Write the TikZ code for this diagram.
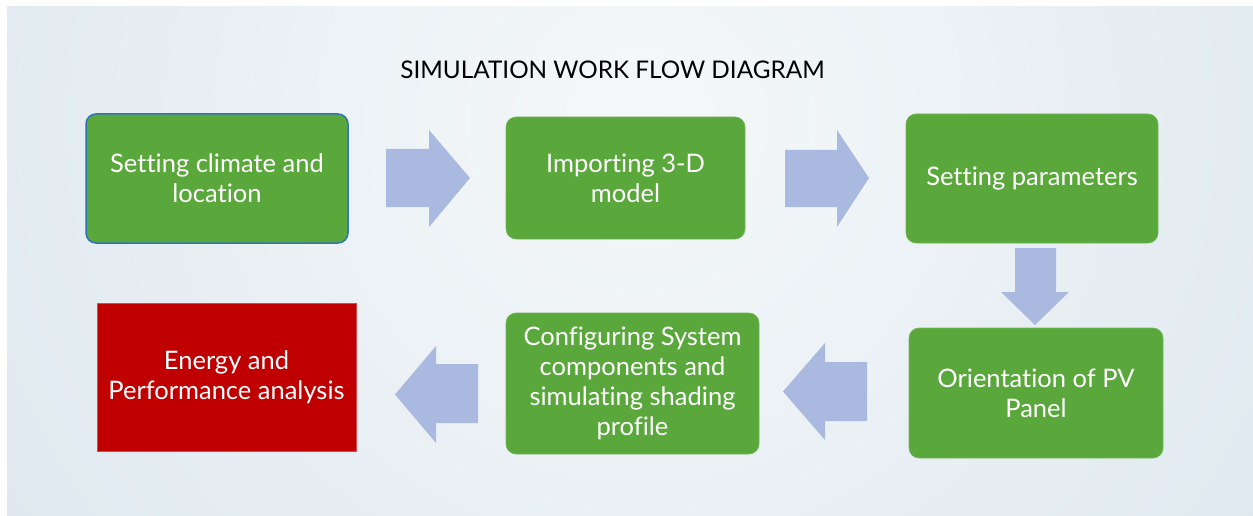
\documentclass[tikz,border=0pt]{standalone}
\usepackage{fontspec}
\setmainfont{Lato}[Ligatures=NoCommon]
\usetikzlibrary{shadings}
\definecolor{boxgreen}{HTML}{5AA83C}
\definecolor{boxred}{HTML}{C00000}
\definecolor{arrowblue}{HTML}{A9B9DF}
\definecolor{edgeblue}{HTML}{2E75B6}
\definecolor{bginner}{HTML}{F5F8FA}
\definecolor{bgouter}{HTML}{CFDEE7}
\tikzset{
  stepbox/.style={rectangle, rounded corners=10pt, fill=boxgreen, draw=boxgreen!85!white, line width=0.6pt,
    text=white, align=center, font=\fontsize{25.5}{30}\selectfont, inner sep=0pt},
  endbox/.style={rectangle, fill=boxred, draw=boxred!70!white, line width=0.6pt,
    text=white, align=center, font=\fontsize{25.5}{30}\selectfont, inner sep=0pt},
  blockarrow/.style={fill=arrowblue, draw=none},
}
\begin{document}
\begin{tikzpicture}[x=1pt,y=-1pt]
\useasboundingbox (0,0) rectangle (1253,516);
\fill[white] (0,0) rectangle (1253,516);
\begin{scope}
\clip (7,7) rectangle (1253,516);
\shade[inner color=bginner, outer color=bgouter] (640,120) circle (1300);
\end{scope}
% title
\node (title) at (612.5,70) {\fontsize{24.3}{28}\selectfont SIMULATION WORK FLOW DIAGRAM};
% boxes
\node[stepbox, draw=edgeblue, line width=1.5pt, minimum width=262pt, minimum height=129pt] (b1) at (217,178.5) {Setting climate and\\location};
\node[stepbox, minimum width=239pt, minimum height=122pt] (b2) at (625.5,178) {Importing 3-D\\model};
\node[stepbox, minimum width=252pt, minimum height=129pt] (b3) at (1032,178.5) {Setting parameters};
\node[stepbox, minimum width=254pt, minimum height=130pt] (b4) at (1036,393) {Orientation of PV\\Panel};
\node[stepbox, minimum width=253pt, minimum height=141pt] (b5) at (632.5,383.5) {Configuring System\\components and\\simulating shading\\profile};
\node[endbox, minimum width=259pt, minimum height=148pt] (b6) at (226.5,377) {Energy and\\Performance analysis};
% block arrows
\fill[blockarrow] (386,149) -- (429,149) -- (429,130) -- (470,178) -- (429,227) -- (429,207) -- (386,207) -- cycle;
\fill[blockarrow] (785,150) -- (837,150) -- (837,130) -- (869,178) -- (837,227) -- (837,207) -- (785,207) -- cycle;
\fill[blockarrow] (1015,248) -- (1056,248) -- (1056,292) -- (1069,292) -- (1035,325) -- (1001,292) -- (1015,292) -- cycle;
\fill[blockarrow] (867,362) -- (825,362) -- (825,343) -- (783,391.5) -- (825,440) -- (825,421) -- (867,421) -- cycle;
\fill[blockarrow] (478,364) -- (436,364) -- (436,346) -- (395,394.5) -- (436,443) -- (436,423) -- (478,423) -- cycle;
\end{tikzpicture}
\end{document}
